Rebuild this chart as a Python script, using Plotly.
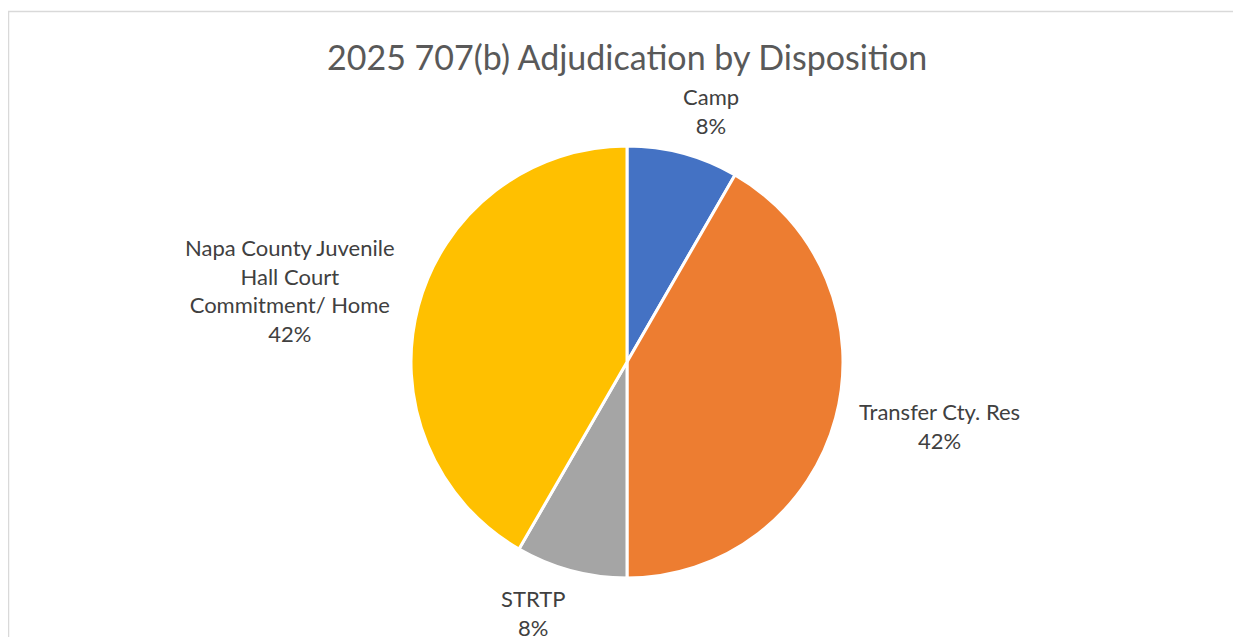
import plotly.graph_objects as go

categories = ["Camp", "Transfer Cty. Res", "STRTP", "Napa County Juvenile Hall Court Commitment/ Home"]
label_text = ["Camp", "Transfer Cty. Res", "STRTP", "Napa County Juvenile<br>Hall Court<br>Commitment/ Home"]
values = [1, 5, 1, 5]
colors = ["#4472C4", "#ED7D31", "#A5A5A5", "#FFC000"]
title = "2025 707(b) Adjudication by Disposition"

W, H = 1241, 637
OFF = 8  # page body margin in the browser
# label centre positions in window pixels (layout)
label_px = [(711, 111), (939, 426), (533, 613), (290, 290)]

total = sum(values)
pcts = [f"{round(v / total * 100)}%" for v in values]


def fx(px):
    return (px - OFF) / W


def fy(py):
    return 1 - (py - OFF) / H


fig = go.Figure()
fig.add_trace(go.Pie(
    labels=categories,
    values=values,
    marker=dict(colors=colors, line=dict(color="white", width=3)),
    sort=False,
    direction="clockwise",
    rotation=0,
    textinfo="none",
    hoverinfo="label+percent",
    showlegend=False,
    domain=dict(x=[fx(411), fx(843)], y=[fy(578), fy(146)]),
))

for (px, py), lt, pc in zip(label_px, label_text, pcts):
    fig.add_annotation(
        x=fx(px), y=fy(py), xref="paper", yref="paper",
        text=f"{lt}<br>{pc}", showarrow=False,
        xanchor="center", yanchor="middle", align="center",
        font=dict(family="Lato, Open Sans, sans-serif", size=22, color="#404040"),
    )

fig.add_annotation(
    x=fx(627), y=fy(56), xref="paper", yref="paper",
    text=title, showarrow=False, xanchor="center", yanchor="middle",
    font=dict(family="Lato, Open Sans, sans-serif", size=34, color="#595959"),
)

fig.add_shape(type="rect", xref="paper", yref="paper",
              x0=fx(8.5), x1=1.05, y0=-0.05, y1=fy(11.5),
              line=dict(color="#D9D9D9", width=1.5), fillcolor="rgba(0,0,0,0)", layer="below")

fig.update_layout(
    width=W, height=H,
    margin=dict(l=0, r=0, t=0, b=0),
    paper_bgcolor="white", plot_bgcolor="white",
)
fig.write_html("out.html")
